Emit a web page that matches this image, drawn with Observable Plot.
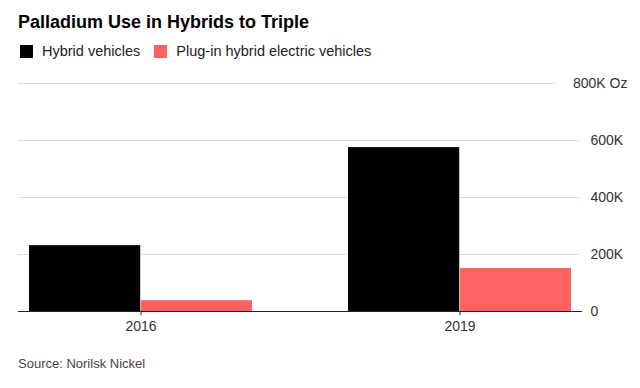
<!DOCTYPE html>
<html>
<head>
<meta charset="utf-8">
<script src="https://cdn.jsdelivr.net/npm/d3@7"></script>
<script src="https://cdn.jsdelivr.net/npm/@observablehq/plot@0.6"></script>
<style>
  body { margin: 0; background: #fff; font-family: "Liberation Sans", Arial, Helvetica, sans-serif; }
  #wrap { width: 640px; height: 388px; position: relative; }
  .title { position: absolute; left: 18px; top: 12px; font-size: 18px; font-weight: bold; color: #000; }
  .legend { position: absolute; left: 20px; top: 43px; font-size: 14.5px; color: #222; display: flex; align-items: center; }
  .legend .sw { width: 13px; height: 13px; display: inline-block; margin-right: 9px; }
  .legend .item { display: flex; align-items: center; margin-right: 14px; }
  .source { position: absolute; left: 18px; top: 356px; font-size: 13px; color: #444; }
  #chart { position: absolute; left: 0; top: 66px; }
</style>
</head>
<body>
<div id="wrap">
  <div class="title">Palladium Use in Hybrids to Triple</div>
  <div class="legend" id="legend"></div>
  <div id="chart"></div>
  <div class="source">Source: Norilsk Nickel</div>
</div>
<script>
const years = ["2016", "2019"];
const series = ["Hybrid vehicles", "Plug-in hybrid electric vehicles"];
const hybridValues = [231000, 575000];
const phevValues = [38000, 151000];
const colors = ["#000000", "#ff6361"];
const yTicks = [0, 200000, 400000, 600000, 800000];
const yTickLabels = ["0", "200K", "400K", "600K", "800K Oz"];

// legend
const legend = document.getElementById("legend");
series.forEach((s, i) => {
  const item = document.createElement("div");
  item.className = "item";
  item.innerHTML = `<span class="sw" style="background:${colors[i]}"></span><span>${s}</span>`;
  legend.appendChild(item);
});

const data = [];
years.forEach((y, i) => {
  data.push({year: y, series: series[0], value: hybridValues[i]});
  data.push({year: y, series: series[1], value: phevValues[i]});
});

const W = 640, H = 280, mL = 18, mR = 58, mT = 17, mB = 35;
const pIn = 0.30, pOut = 0.033;
const step = (W - mL - mR) / (years.length - pIn + 2 * pOut);
const half = step * (1 - pIn) / 2;

const chart = Plot.plot({
  width: W, height: H,
  marginLeft: mL, marginRight: mR, marginTop: mT, marginBottom: mB,
  style: {fontFamily: '"Liberation Sans", Arial, Helvetica, sans-serif', fontSize: "14px", color: "#333", background: "#fff"},
  x: {domain: years, paddingInner: pIn, paddingOuter: pOut, label: null},
  y: {domain: [0, 800000], label: null},
  color: {domain: series, range: colors},
  marks: [
    Plot.gridY(yTicks.slice(1), {stroke: "#dcdcdc", strokeOpacity: 1}),
    Plot.barY(data.filter(d => d.series === series[0]), {x: "year", y: "value", fill: "series", insetRight: half}),
    Plot.barY(data.filter(d => d.series === series[1]), {x: "year", y: "value", fill: "series", insetLeft: half}),
    Plot.ruleY([0], {stroke: "#222", strokeWidth: 1}),
    Plot.axisX({tickSize: 4, tickPadding: 6, stroke: "#222", fontSize: 14}),
    Plot.axisY(yTicks, {anchor: "right", tickSize: 0, tickPadding: 8,
      tickFormat: (d) => yTickLabels[yTicks.indexOf(d)], textAnchor: "start", fontSize: 14})
  ]
});
document.getElementById("chart").appendChild(chart);

// Bloomberg style: top label right-aligned, its gridline shortened
const svg = d3.select(chart);
svg.selectAll("text").filter(function() { return this.textContent === "800K Oz"; })
  .each(function() {
    const t = d3.select(this);
    t.attr("text-anchor", "end").attr("x", (+t.attr("x") || 0) + 37);
  });
const lines = [];
svg.selectAll("g[aria-label='y-grid'] line").each(function() {
  const bb = this.getBBox();
  const m = this.getCTM();
  lines.push({el: this, y: m ? m.f + bb.y : bb.y});
});
if (lines.length) {
  const minY = Math.min(...lines.map(l => l.y));
  lines.forEach(l => {
    const el = d3.select(l.el);
    const x2 = +el.attr("x2");
    el.attr("x2", x2 - (Math.abs(l.y - minY) < 1 ? 26 : 2));
  });
}
</script>
</body>
</html>
